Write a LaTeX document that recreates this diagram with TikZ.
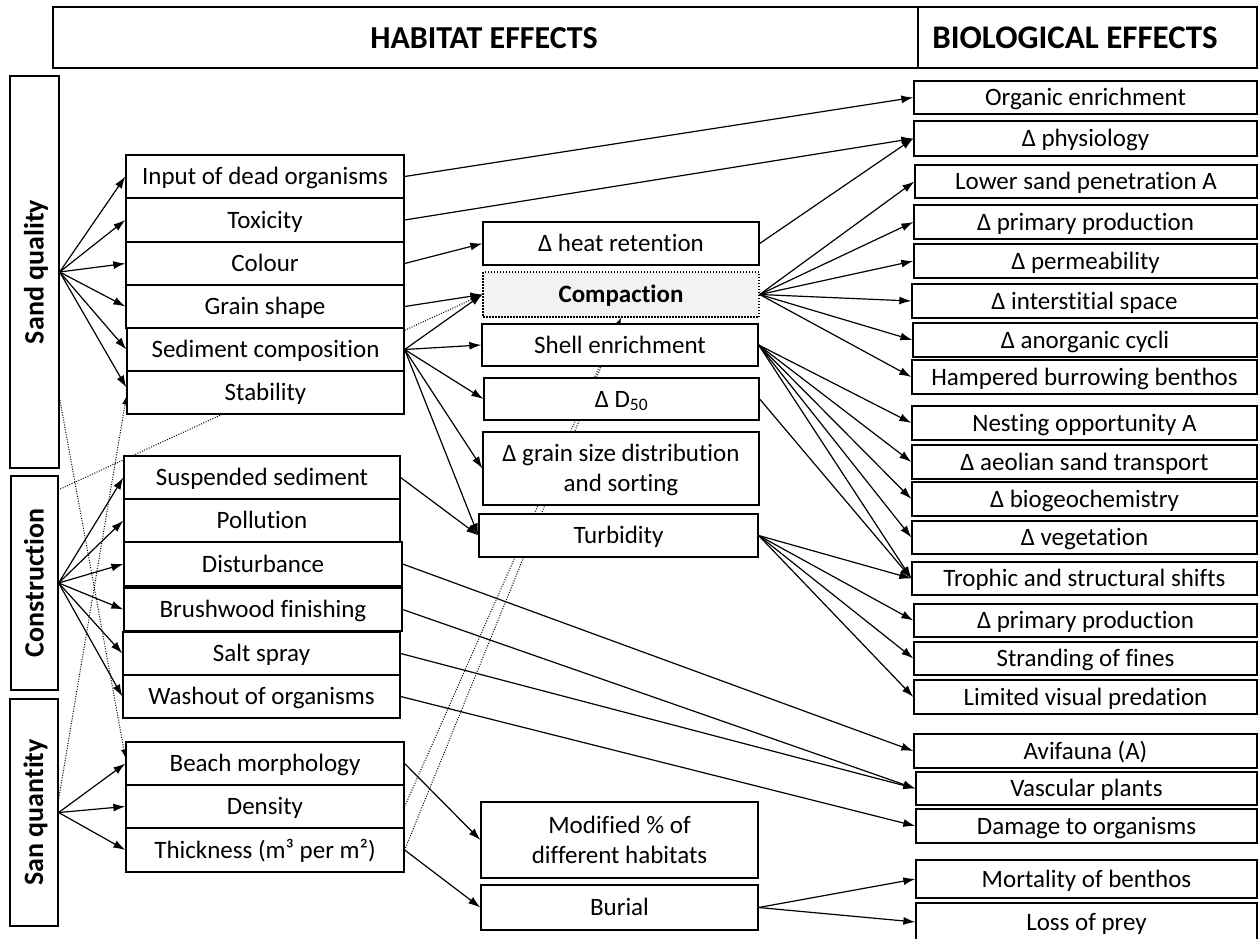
\documentclass[tikz,border=0pt]{standalone}
\usepackage{fontspec}
\setmainfont{Carlito}[Ligatures=NoCommon]
\usetikzlibrary{arrows.meta,backgrounds}
\newcommand\mybox[7][]{\node[bx,minimum width={#5-#3},minimum height={#6-#4},#1] (#2) at ({(#3+#5)/2},{(#4+#6)/2}) {#7};}
\begin{document}
\begin{tikzpicture}[x=1pt,y=-1pt,
  bx/.style={draw,line width=1.3pt,fill=white,inner sep=0pt,align=center,font=\fontsize{25}{30}\selectfont,text height=16pt,text depth=0pt},
  twoline/.style={text height=46pt,text depth=0pt},
  catbox/.style={draw,line width=1.3pt,fill=white,inner sep=0pt},
  cattext/.style={rotate=90,font=\fontsize{28}{30}\selectfont\bfseries,text height=18pt,text depth=0pt},
  headtext/.style={font=\fontsize{32}{34}\selectfont\bfseries,text height=20.6pt,text depth=0pt},
  arr/.style={line width=1.2pt,-{Latex[length=12pt,width=8pt]}},
  dotarr/.style={line width=1pt,dash pattern=on 1pt off 1.5pt,-{Latex[length=8pt,width=6pt]}},
  dotln/.style={line width=1pt,dash pattern=on 1pt off 1.5pt},
]
\useasboundingbox (0,0) rectangle (1258,939);
% headers
\mybox{hab}{53}{7}{918}{68}{}
\mybox{bio}{918}{7}{1257}{68}{}
\node[headtext] (habt) at (484,38) {HABITAT EFFECTS};
\node[headtext,font=\fontsize{33}{34}\selectfont\bfseries] (biot) at (1075,38) {BIOLOGICAL EFFECTS};
% categories
\node[catbox,minimum width=49,minimum height=392] (sq) at (34.5,272) {};
\node[cattext] (sqt) at (sq.center) {Sand quality};
\node[catbox,minimum width=47,minimum height=214] (con) at (34.5,583) {};
\node[cattext] (cont) at (con.center) {Construction};
\node[catbox,minimum width=48,minimum height=227] (squ) at (34,812.5) {};
\node[cattext] (squt) at (squ.center) {San quantity};
% left column
\mybox{inp}{126}{155}{404}{198}{Input of dead organisms}
\mybox{tox}{126}{198}{404}{242}{Toxicity}
\mybox{col}{126}{242}{404}{285}{Colour}
\mybox{gra}{126}{285}{404}{328}{Grain shape}
\mybox{sed}{127}{328}{404}{371}{Sediment composition}
\mybox{sta}{127}{371}{404}{414}{Stability}
\mybox{sus}{124}{456}{400}{499}{Suspended sediment}
\mybox{pol}{124}{499}{400}{542}{Pollution}
\mybox{dis}{124}{542}{402}{586}{Disturbance}
\mybox{bru}{124}{588}{402}{631}{Brushwood finishing}
\mybox{sal}{123}{632}{400}{675}{Salt spray}
\mybox{was}{123}{675}{400}{718}{Washout of organisms}
\mybox{bea}{126}{742}{404}{785}{Beach morphology}
\mybox{den}{126}{785}{404}{828}{Density}
\mybox{thi}{126}{828}{404}{872}{Thickness (m³ per m²)}
% middle column
\mybox{heat}{483}{222}{759}{265}{Δ heat retention}
\mybox[dash pattern=on 1.5pt off 1.5pt,fill=gray!10,font=\fontsize{25}{30}\selectfont\bfseries]{comp}{483}{272}{759}{317}{Compaction}
\mybox{shell}{482}{324}{758}{366}{Shell enrichment}
\mybox{dfifty}{484}{378}{759}{420}{Δ D\textsubscript{50}}
\mybox[twoline]{gsd}{483}{432}{759}{505}{Δ grain size distribution\\and sorting}
\mybox{turb}{479}{514}{758}{557}{Turbidity}
\mybox[twoline]{mod}{481}{802}{758}{878}{Modified \% of\\different habitats}
\mybox{bur}{481}{885}{758}{930}{Burial}
% right column
\mybox{ra}{914}{81}{1257}{114}{Organic enrichment}
\mybox{rb}{914}{121}{1257}{156}{Δ physiology}
\mybox{rc}{915}{165}{1257}{198}{Lower sand penetration A}
\mybox{rd}{914}{205}{1257}{239}{Δ primary production}
\mybox{re}{914}{244}{1257}{278}{Δ permeability}
\mybox{rf}{912}{284}{1257}{318}{Δ interstitial space}
\mybox{rg}{913}{323}{1257}{357}{Δ anorganic cycli}
\mybox{rh}{912}{360}{1257}{394}{Hampered burrowing benthos}
\mybox{ri}{912}{406}{1257}{440}{Nesting opportunity A}
\mybox{rj}{912}{445}{1257}{479}{Δ aeolian sand transport}
\mybox{rk}{912}{482}{1257}{516}{Δ biogeochemistry}
\mybox{rl}{912}{521}{1257}{554}{Δ vegetation}
\mybox{rm}{912}{562}{1257}{595}{Trophic and structural shifts}
\mybox{rn}{914}{604}{1257}{637}{Δ primary production}
\mybox{ro}{914}{642}{1257}{675}{Stranding of fines}
\mybox{rp}{914}{680}{1257}{714}{Limited visual predation}
\mybox{rq}{914}{734}{1257}{768}{Avifauna (A)}
\mybox{rr}{916}{772}{1257}{805}{Vascular plants}
\mybox{rs}{916}{809}{1257}{843}{Damage to organisms}
\mybox{rt}{916}{860}{1257}{898}{Mortality of benthos}
\mybox{ru}{916}{903}{1257}{941}{Loss of prey}
% dotted connectors (behind boxes)
\coordinate (sqd) at (59,395);
\coordinate (squd) at (58,803);
\coordinate (cond) at (58,490);
\coordinate (stab) at (223,414);
\begin{pgfonlayer}{background}
\draw[dotarr] (sqd) -- ([yshift=6pt]bea.west);
\draw[dotarr] (squd) -- ([yshift=-4pt]sta.west);
\draw[dotln] (cond) -- (stab);
\draw[dotarr] ([yshift=-3pt]sed.north east) -- (comp.west);
\draw[dotln] (den.east) -- (comp.south);
\draw[dotarr] (thi.east) -- (comp.south);
\end{pgfonlayer}
% solid connectors
\foreach \t in {inp,tox,col,gra,sed} \draw[arr] (sq.east) -- (\t.west);
\draw[arr] (sq.east) -- ([yshift=5pt]sta.west);
\foreach \t in {sus,pol,dis,bru,sal,was} \draw[arr] (con.east) -- (\t.west);
\foreach \t in {bea,den,thi} \draw[arr] (squ.east) -- (\t.west);
\draw[arr] (inp.east) -- (ra.west);
\draw[arr] (tox.east) -- (rb.west);
\draw[arr] (col.east) -- (heat.west);
\draw[arr] (heat.east) -- (rb.west);
\draw[arr] (gra.east) -- (comp.west);
\foreach \t in {comp,shell,dfifty,gsd,turb} \draw[arr] (sed.east) -- (\t.west);
\draw[arr] (sus.east) -- (turb.west);
\foreach \t in {rc,rd,re,rf,rg,rh} \draw[arr] (comp.east) -- (\t.west);
\foreach \t in {ri,rj,rk,rl,rm} \draw[arr] (shell.east) -- (\t.west);
\draw[arr] (dfifty.east) -- (rm.west);
\foreach \t in {rm,rn,ro,rp} \draw[arr] (turb.east) -- (\t.west);
\draw[arr] (dis.east) -- (rq.west);
\draw[arr] (bru.east) -- (rr.west);
\draw[arr] (sal.east) -- (rr.west);
\draw[arr] (was.east) -- (rs.west);
\draw[arr] (bea.east) -- (mod.west);
\draw[arr] (thi.east) -- (bur.west);
\draw[arr] (bur.east) -- (rt.west);
\draw[arr] (bur.east) -- (ru.west);
\end{tikzpicture}
\end{document}
